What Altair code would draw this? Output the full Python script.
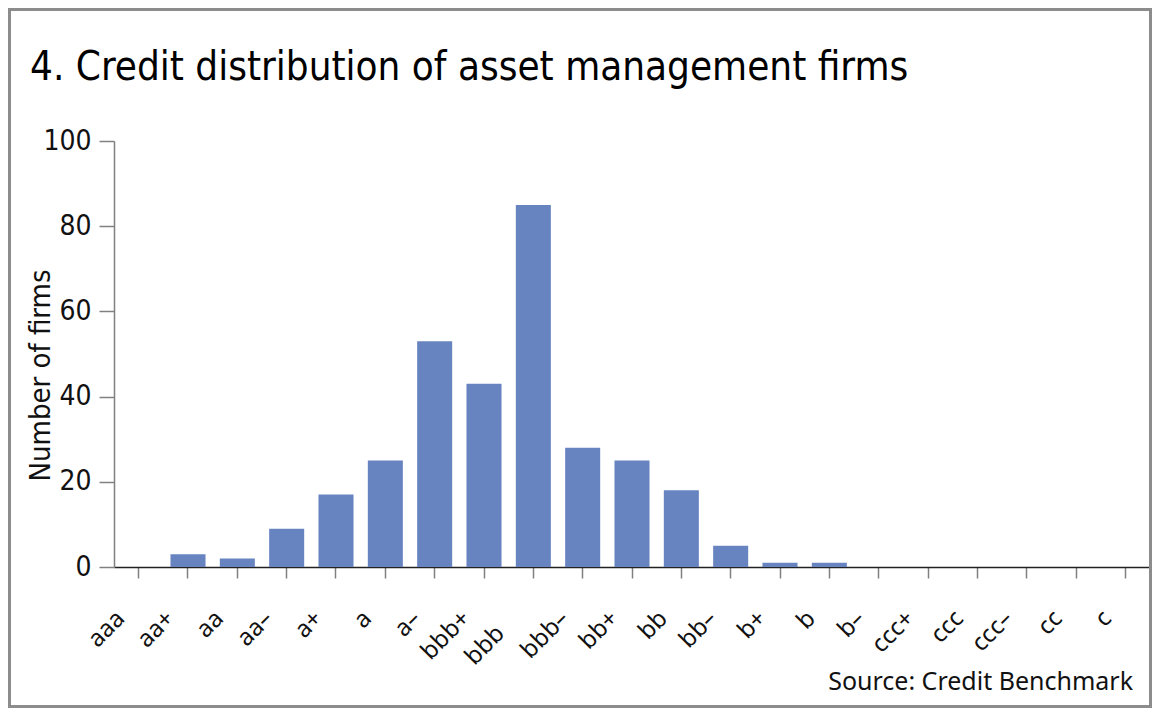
import altair as alt
import pandas as pd

ratings = ["aaa", "aa+", "aa", "aa–", "a+", "a", "a–", "bbb+", "bbb", "bbb–",
           "bb+", "bb", "bb–", "b+", "b", "b–", "ccc+", "ccc", "ccc–", "cc", "c"]
firms = [0, 3, 2, 9, 17, 25, 53, 43, 85, 28, 25, 18, 5, 1, 1, 0, 0, 0, 0, 0, 0]
y_ticks = [0, 20, 40, 60, 80, 100]

title_text = "4. Credit distribution of asset management firms"
source_text = "Source: Credit Benchmark"

NARROW = "Liberation Sans Narrow, DejaVu Sans Condensed, Arial Narrow, sans-serif"
REG = "Noto Sans, Open Sans, DejaVu Sans, sans-serif"

df = pd.DataFrame({"rating": ratings, "firms": firms})

frame = alt.Chart(pd.DataFrame({"k": [0]})).mark_rect(
    fill="transparent", stroke="#8c8c8c", strokeWidth=3, clip=False
).encode(
    x=alt.value(-104.5), x2=alt.value(1036.5),
    y=alt.value(-131.5), y2=alt.value(565.5),
)

bars = alt.Chart(df).mark_bar(color="#6784c1").encode(
    x=alt.X("rating:N", sort=ratings,
            scale=alt.Scale(paddingInner=0.29, paddingOuter=0.145),
            axis=alt.Axis(title=None, labelAngle=-45, labelFont=REG,
                          labelFontSize=24, labelColor="#111",
                          domainColor="#222", domainWidth=1.5,
                          tickColor="#808080", tickSize=11, tickWidth=1.5,
                          labelPadding={"condition": {"test": "datum.value == 'bbb'", "value": 43}, "value": 28},
                          labelOffset={"condition": {"test": "datum.value == 'bbb'", "value": -41}, "value": -26})),
    y=alt.Y("firms:Q", scale=alt.Scale(domain=[0, 100], nice=False),
            axis=alt.Axis(title="Number of firms", values=y_ticks, grid=False,
                          labelFont=NARROW, labelFontSize=28, labelColor="#111",
                          domainColor="#808080", domainWidth=1.5,
                          tickColor="#808080", tickSize=15, tickWidth=1.5,
                          labelPadding=8,
                          titleFont=NARROW, titleFontSize=29,
                          titleFontWeight="normal", titleColor="#111",
                          titleAngle=-90, titleX=-65, titleY=234,
                          titleBaseline="alphabetic", titleAlign="center")),
)

title = alt.Chart(pd.DataFrame({"t": [title_text]})).mark_text(
    align="left", baseline="alphabetic", font=NARROW, fontSize=40, color="#000"
).encode(
    text="t:N", x=alt.value(-84), y=alt.value(-61)
)

source = alt.Chart(pd.DataFrame({"t": [source_text]})).mark_text(
    align="right", baseline="alphabetic", font=REG, fontSize=25, color="#111"
).encode(
    text="t:N", x=alt.value(1019), y=alt.value(549)
)

chart = alt.layer(frame, bars, title, source).properties(
    width=1036, height=426,
    padding={"left": 106, "top": 133, "right": 2, "bottom": 141},
    autosize=alt.AutoSizeParams(type="none"),
    background="white",
).configure_view(stroke="transparent", strokeWidth=0)

chart.save("out.html", embed_options={"renderer": "svg", "actions": False})
